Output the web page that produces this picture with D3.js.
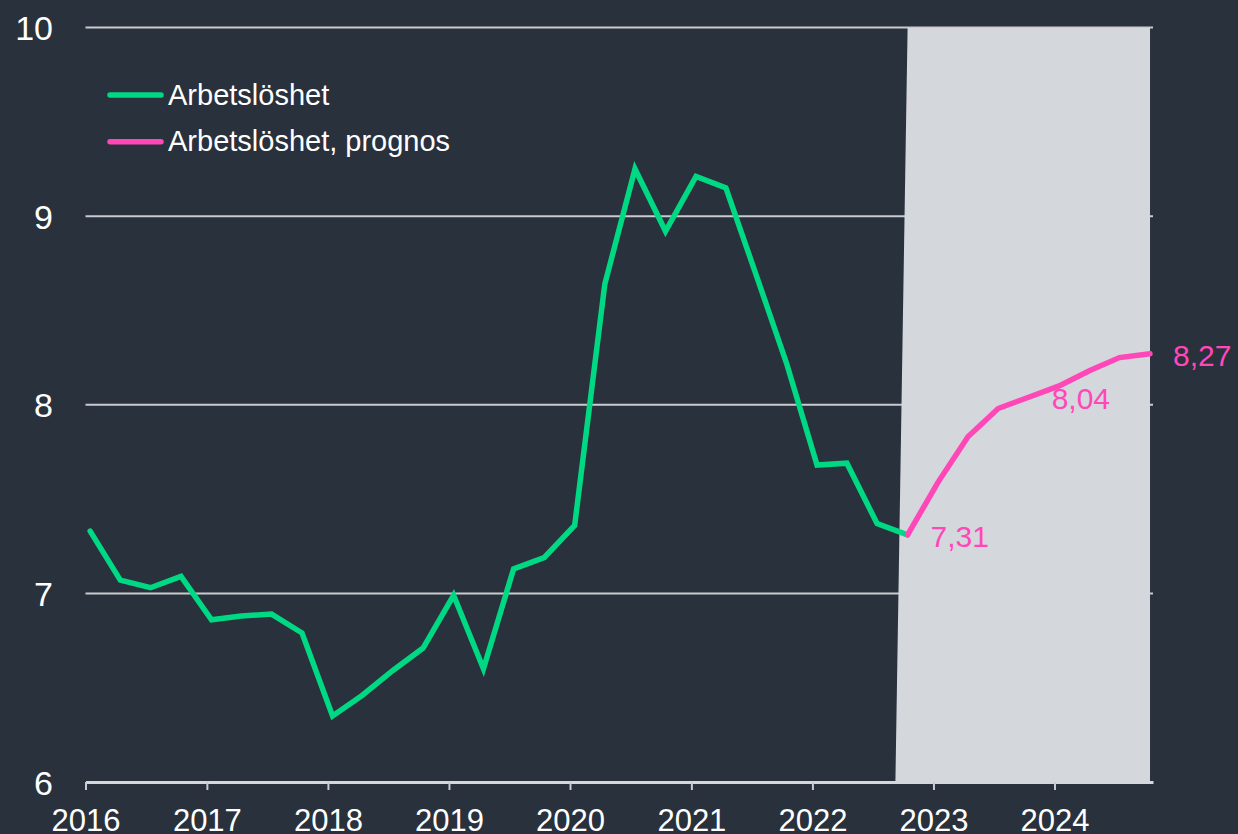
<!DOCTYPE html>
<html>
<head>
<meta charset="utf-8">
<script src="https://cdn.jsdelivr.net/npm/d3@7"></script>
<style>
  html, body { margin: 0; padding: 0; background: #28313c; }
  svg { display: block; }
  text { font-family: "Liberation Sans", Arial, sans-serif; }
</style>
</head>
<body>
<svg id="chart" width="1238" height="834"></svg>
<script>
// ---------------- data ----------------
const histDates = [
  "2016-01-15","2016-04-15","2016-07-15","2016-10-15",
  "2017-01-15","2017-04-15","2017-07-15","2017-10-15",
  "2018-01-15","2018-04-15","2018-07-15","2018-10-15",
  "2019-01-15","2019-04-15","2019-07-15","2019-10-15",
  "2020-01-15","2020-04-15","2020-07-15","2020-10-15",
  "2021-01-15","2021-04-15","2021-07-15","2021-10-15",
  "2022-01-15","2022-04-15","2022-07-15","2022-10-15"
];
const histValues = [
  7.33, 7.07, 7.03, 7.09,
  6.86, 6.88, 6.89, 6.79,
  6.35, 6.46, 6.59, 6.71,
  6.99, 6.60, 7.13, 7.19,
  7.36, 8.64, 9.25, 8.92,
  9.21, 9.15, 8.69, 8.22,
  7.68, 7.69, 7.37, 7.31
];
const fcDates = [
  "2022-10-15","2023-01-15","2023-04-15","2023-07-15","2023-10-15",
  "2024-01-15","2024-04-15","2024-07-15","2024-10-15"
];
const fcValues = [7.31, 7.59, 7.83, 7.98, 8.04, 8.10, 8.18, 8.25, 8.27];
// shaded forecast band (area series)
const shadeDates = [
  "2022-07-15","2022-10-15","2023-01-15","2023-04-15","2023-07-15","2023-10-15",
  "2024-01-15","2024-04-15","2024-07-15","2024-10-15"
];
const shadeValues = [0, 10, 10, 10, 10, 10, 10, 10, 10, 10];
// labelled forecast points
const labelDates = ["2022-10-15", "2023-10-15", "2024-10-15"];
const labelTexts = ["7,31", "8,04", "8,27"];
const labelValues = [7.31, 8.04, 8.27];

const yTicks = [6, 7, 8, 9, 10];
const xTickYears = [2016, 2017, 2018, 2019, 2020, 2021, 2022, 2023, 2024];
const seriesNames = ["Arbetslöshet", "Arbetslöshet, prognos"];
const seriesColors = ["#00d984", "#ff47b8"];

// ---------------- setup ----------------
const parse = d3.timeParse("%Y-%m-%d");
const svg = d3.select("#chart");
const W = 1238, H = 834;
const plot = { left: 85.5, right: 1153, top: 27.5, bottom: 782 };

const x = d3.scaleTime()
  .domain([new Date(2016, 0, 1), new Date(2024, 9, 24)])
  .range([plot.left, plot.right]);
const y = d3.scaleLinear().domain([6, 10]).range([plot.bottom, plot.top]);

svg.append("rect").attr("width", W).attr("height", H).attr("fill", "#28313c");

svg.append("defs").append("clipPath").attr("id", "plotclip")
  .append("rect")
  .attr("x", plot.left).attr("y", plot.top)
  .attr("width", plot.right - plot.left).attr("height", plot.bottom - plot.top);

// gridlines
svg.append("g").selectAll("line")
  .data(yTicks.filter(d => d !== 6))
  .join("line")
  .attr("x1", plot.left).attr("x2", plot.right)
  .attr("y1", d => y(d)).attr("y2", d => y(d))
  .attr("stroke", "#c9cbce").attr("stroke-width", 2);

// y labels
svg.append("g").selectAll("text")
  .data(yTicks)
  .join("text")
  .attr("x", 53).attr("y", d => y(d) + 12.5)
  .attr("text-anchor", "end")
  .attr("font-size", 34).attr("fill", "#ffffff")
  .text(d => d);

// shaded forecast area
const shadeData = shadeDates.map((d, i) => ({ date: parse(d), v: shadeValues[i] }));
svg.append("path")
  .datum(shadeData)
  .attr("clip-path", "url(#plotclip)")
  .attr("fill", "#d4d7dc")
  .attr("d", d3.area().x(d => x(d.date)).y0(y(0)).y1(d => y(d.v)));

// x axis
const xAxis = d3.axisBottom(x)
  .tickValues(xTickYears.map(yy => new Date(yy, 0, 1)))
  .tickFormat(d3.timeFormat("%Y"))
  .tickSize(8).tickSizeOuter(0);
const gx = svg.append("g").attr("transform", `translate(0,${plot.bottom})`).call(xAxis);
gx.select(".domain").attr("stroke", "#d4d7dc").attr("stroke-width", 3);
gx.selectAll(".tick line").attr("stroke", "#c9cbce").attr("stroke-width", 2);
gx.selectAll(".tick text")
  .attr("y", 49).attr("dy", null)
  .attr("font-size", 31).attr("fill", "#ffffff")
  .attr("font-family", "Liberation Sans, Arial, sans-serif");

// lines
const line = d3.line().x(d => x(d.date)).y(d => y(d.v));
const hist = histDates.map((d, i) => ({ date: parse(d), v: histValues[i] }));
const fc = fcDates.map((d, i) => ({ date: parse(d), v: fcValues[i] }));

svg.append("path").datum(hist)
  .attr("fill", "none").attr("stroke", seriesColors[0])
  .attr("stroke-width", 5.5).attr("stroke-linecap", "round")
  .attr("stroke-linejoin", "miter")
  .attr("d", line);

svg.append("path").datum(fc)
  .attr("fill", "none").attr("stroke", seriesColors[1])
  .attr("stroke-width", 5.5).attr("stroke-linecap", "round")
  .attr("stroke-linejoin", "miter")
  .attr("d", line);

// data labels
svg.append("g").selectAll("text")
  .data(labelDates.map((d, i) => ({ date: parse(d), v: labelValues[i], t: labelTexts[i] })))
  .join("text")
  .attr("x", d => x(d.date) + 23)
  .attr("y", d => y(d.v) + 12)
  .attr("font-size", 30).attr("fill", seriesColors[1])
  .text(d => d.t);

// legend
const leg = svg.append("g").selectAll("g")
  .data(seriesNames)
  .join("g")
  .attr("transform", (d, i) => `translate(0,${95 + i * 46.7})`);
leg.append("line")
  .attr("x1", 110).attr("x2", 161).attr("y1", 0).attr("y2", 0)
  .attr("stroke", (d, i) => seriesColors[i])
  .attr("stroke-width", 5.5).attr("stroke-linecap", "round");
leg.append("text")
  .attr("x", 168).attr("y", 9.5)
  .attr("font-size", 29).attr("fill", "#ffffff")
  .text(d => d);
</script>
</body>
</html>
